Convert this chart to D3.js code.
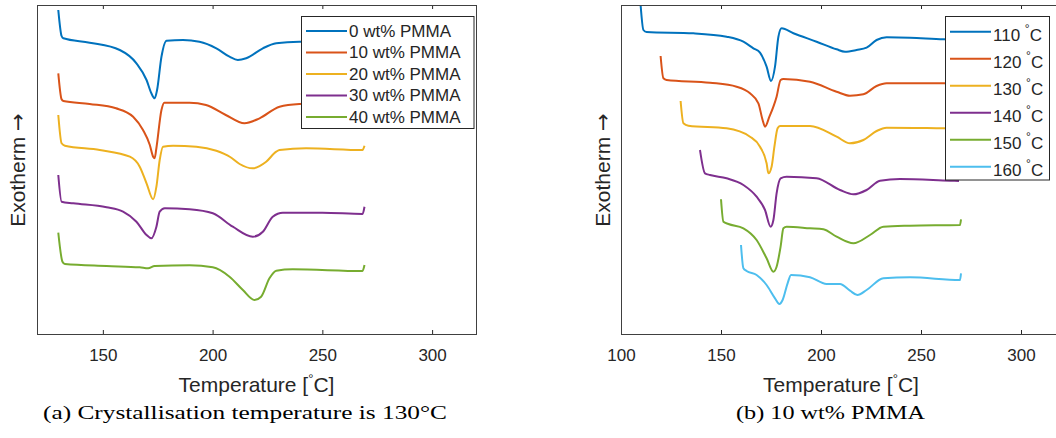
<!DOCTYPE html>
<html>
<head>
<meta charset="utf-8">
<script src="https://cdn.jsdelivr.net/npm/d3@7"></script>
<style>
body { margin: 0; background: #fff; }
svg text { font-family: "Liberation Sans", Arial, Helvetica, sans-serif; fill: #262626; }
svg text.caption { font-family: "Liberation Serif", "DejaVu Serif", serif; fill: #000; }
</style>
</head>
<body>
<svg id="chart" width="1056" height="438"></svg>
<script>
// DSC traces, [temperature in °C, heat flow in a.u. (shifted for display)]
// (a) crystallised at 130 °C, different PMMA content
var pmma0 = [[129.7,-1.0],[131.2,-3.6],[132,-3.83],[144,-4.27],[157.7,-5.0],[165.3,-6.33],[169.9,-8.0],[172.1,-9.33],[173.6,-9.83],[174.7,-9.0],[176.7,-5.67],[179,-4.07],[186.5,-4.0],[194,-4.17],[201.7,-4.83],[207.7,-5.67],[211.5,-6.0],[215.3,-5.83],[222.9,-4.83],[229,-4.33],[239.5,-4.17],[255,-4.15],[268.5,-4.15],[269.5,-3.8]];
var pmma10 = [[129.7,-7.33],[131.2,-9.93],[132,-10.1],[144,-10.4],[156,-10.83],[163.8,-11.67],[168.3,-13.0],[171.4,-14.5],[172.9,-15.67],[173.6,-15.83],[174.4,-14.8],[176.7,-11.0],[178,-10.27],[189.5,-10.27],[197,-10.5],[206,-11.5],[214.5,-12.33],[221.4,-11.83],[230.5,-10.67],[239.5,-10.4],[255,-10.3],[268.5,-10.3],[269.5,-9.95]];
var pmma20 = [[129.7,-11.5],[131.2,-14.33],[132.7,-14.57],[148.6,-15.0],[162.3,-15.67],[166.8,-16.67],[169.9,-18.33],[172.9,-19.93],[174.4,-18.67],[175.9,-16.0],[177.4,-14.67],[182,-14.57],[192.6,-14.67],[201.7,-15.08],[208,-15.7],[212.3,-16.4],[218.3,-16.83],[224.4,-16.17],[229,-15.17],[230.5,-15.0],[242.6,-14.83],[268.3,-15.0],[269.2,-14.57]];
var pmma30 = [[129.7,-17.5],[131.2,-20.17],[136.5,-20.33],[151.7,-20.73],[159.2,-21.17],[165.3,-22.17],[169.9,-23.5],[172.1,-23.83],[174.4,-22.67],[175.9,-21.17],[178.2,-20.83],[189.5,-20.93],[200.1,-21.33],[209.2,-22.67],[218.3,-23.67],[222.9,-23.17],[227.4,-21.67],[232,-21.27],[250,-21.27],[268.3,-21.4],[269.2,-20.67]];
var pmma40 = [[129.7,-23.27],[131.6,-26.17],[132.7,-26.4],[151.7,-26.6],[166.8,-26.73],[170.6,-26.83],[173.6,-26.6],[189.5,-26.53],[200.1,-26.73],[207.7,-27.67],[213.8,-29.0],[219.1,-30.0],[222.1,-29.67],[225.9,-27.83],[229,-27.07],[236.5,-26.93],[268.3,-27.1],[269.2,-26.5]];

// (b) 10 wt% PMMA, different crystallisation temperatures
var tc110 = [[109.8,-0.5],[111.2,-3.0],[112.8,-3.2],[136.2,-3.33],[152.8,-3.67],[161.2,-4.17],[166.2,-4.83],[169.5,-5.27],[172.8,-6.67],[175,-8.1],[177,-6.67],[178.7,-3.67],[180.3,-2.83],[186.2,-3.33],[197.8,-4.17],[207.8,-4.93],[212,-5.17],[217.8,-5.0],[222.8,-4.77],[227.8,-4.0],[232.8,-3.73],[244.5,-3.77],[261.2,-3.93],[269.5,-3.95]];
var tc120 = [[119.8,-5.6],[121.2,-7.83],[122.8,-8.0],[144.5,-8.27],[157.8,-8.67],[164.5,-9.33],[168.7,-10.33],[170.8,-12.0],[172,-12.67],[174.2,-11.67],[176.2,-10.67],[177.8,-9.67],[179.8,-8.0],[181.2,-7.9],[194.5,-8.17],[207.8,-9.17],[214.5,-9.57],[221.2,-9.43],[227.8,-8.6],[232.8,-8.33],[261.2,-8.33],[269.5,-8.35]];
var tc130 = [[129.8,-10.1],[131.2,-12.33],[133.7,-12.57],[152.8,-12.83],[164.5,-13.67],[169.5,-14.67],[172.8,-16.33],[173.7,-17.33],[175.3,-16.67],[176.7,-14.67],[178.3,-12.83],[179.5,-12.6],[194.5,-12.6],[207.8,-13.67],[214.5,-14.33],[221.2,-14.0],[227.8,-13.1],[232.8,-12.77],[261.2,-12.83],[269.5,-12.85]];
var tc140 = [[139.5,-15.0],[142,-17.33],[144.5,-17.5],[152.8,-17.83],[161.2,-18.5],[167.8,-19.67],[172,-21.0],[174.8,-22.67],[176.2,-22.0],[177.8,-19.33],[179.8,-17.83],[182.8,-17.67],[197.8,-17.83],[209.5,-19.0],[216.2,-19.43],[222.8,-19.0],[229.5,-18.07],[239.5,-17.9],[264.5,-18.07],[269,-18.1]];
var tc150 = [[150,-19.93],[151.2,-22.17],[153.7,-22.4],[161.2,-22.83],[167.8,-24.0],[172.8,-25.83],[176.2,-27.17],[177.8,-26.67],[179.8,-24.67],[181.2,-22.83],[182.8,-22.67],[194.5,-22.83],[201.2,-22.93],[207.8,-23.67],[216.2,-24.33],[224.5,-23.5],[231.2,-22.67],[244.5,-22.57],[269.5,-22.5],[270,-21.93]];
var tc160 = [[160,-24.5],[161.2,-26.83],[162.8,-27.1],[167.8,-27.5],[172.8,-28.5],[177,-29.83],[179.2,-30.4],[180.8,-30.0],[183.3,-28.33],[185,-27.5],[194.5,-27.73],[202.8,-28.4],[209.5,-28.4],[214.5,-29.07],[218.2,-29.5],[222.8,-29.0],[231.2,-27.83],[244.5,-27.73],[269.5,-28.0],[270,-27.33]];

var namesA = ["0 wt% PMMA", "10 wt% PMMA", "20 wt% PMMA", "30 wt% PMMA", "40 wt% PMMA"];
var namesB = ["110", "120", "130", "140", "150", "160"];
var ticksA = [150, 200, 250, 300];
var ticksB = [100, 150, 200, 250, 300];

// MATLAB default line colours
var colors = ["#0072BD", "#D95319", "#EDB120", "#7E2F8E", "#77AC30", "#4DBEEE"];

var panels = [
    {
        left: 37, right: 476, domain: [120, 320], ticks: ticksA,
        series: [pmma0, pmma10, pmma20, pmma30, pmma40], names: namesA, degree: false,
        legend: { x: 301.5, y: 16.5, w: 172.5, h: 112, row0: 31, rowH: 21.5, baseOff: 5.9, l0: 306, l1: 347, tx: 349 },
        ylabelX: 25,
        caption: "(a) Crystallisation temperature is 130°C", capX: 43, capW: 404
    },
    {
        left: 621, right: 1061, domain: [100, 320], ticks: ticksB,
        series: [tc110, tc120, tc130, tc140, tc150, tc160], names: namesB, degree: true,
        legend: { x: 945.5, y: 16.5, w: 104, h: 163.5, row0: 31.7, rowH: 27, baseOff: 9, l0: 950, l1: 991, tx: 993 },
        ylabelX: 610,
        caption: "(b) 10 wt% PMMA", capX: 736, capW: 189
    }
];

var svg = d3.select("#chart");
var plotTop = 5, plotBottom = 334;
var y = d3.scaleLinear().domain([-33.4, -0.5]).range([plotBottom, plotTop]);

panels.forEach(function(p, pi) {
    var x = d3.scaleLinear().domain(p.domain).range([p.left, p.right]);
    var g = svg.append("g");

    g.append("clipPath").attr("id", "clip" + pi)
        .append("rect")
        .attr("x", p.left).attr("y", plotTop)
        .attr("width", p.right - p.left).attr("height", plotBottom - plotTop);

    // curves
    var line = d3.line()
        .x(function(d) { return x(d[0]); })
        .y(function(d) { return y(d[1]); })
        .curve(d3.curveMonotoneX);

    g.append("g").attr("clip-path", "url(#clip" + pi + ")")
        .selectAll("path")
        .data(p.series)
        .join("path")
        .attr("d", line)
        .attr("fill", "none")
        .attr("stroke", function(d, i) { return colors[i]; })
        .attr("stroke-width", 2)
        .attr("stroke-linejoin", "round");

    // bottom axis, ticks pointing inwards
    var xb = g.append("g")
        .attr("transform", "translate(0," + plotBottom + ")")
        .call(d3.axisBottom(x).tickValues(p.ticks).tickSize(-4).tickPadding(15));
    xb.select(".domain").remove();
    xb.attr("font-size", null).attr("font-family", null);
    xb.selectAll("line").attr("stroke", "#262626");
    xb.selectAll("text").style("font-size", "17px");

    var xt = g.append("g")
        .attr("transform", "translate(0," + plotTop + ")")
        .call(d3.axisTop(x).tickValues(p.ticks).tickSize(-4).tickFormat(""));
    xt.select(".domain").remove();
    xt.selectAll("line").attr("stroke", "#262626");

    // axes box
    g.append("rect")
        .attr("x", p.left + 0.5).attr("y", plotTop + 0.5)
        .attr("width", p.right - p.left).attr("height", plotBottom - plotTop)
        .attr("fill", "none")
        .attr("stroke", "#404040")
        .attr("stroke-width", 1);

    // axis labels
    var xl = g.append("text")
        .attr("x", (p.left + p.right) / 2).attr("y", 392)
        .attr("text-anchor", "middle")
        .style("font-size", "21px");
    xl.append("tspan").text("Temperature [");
    xl.append("tspan").attr("dy", -9).style("font-size", "13px").text("°");
    xl.append("tspan").attr("dy", 9).text("C]");

    var yl = g.append("text")
        .attr("transform", "translate(" + p.ylabelX + ",170) rotate(-90)")
        .attr("text-anchor", "middle")
        .style("font-size", "21px");
    yl.append("tspan").text("Exotherm ");
    yl.append("tspan").style("font-family", "'DejaVu Sans', sans-serif").text("→");

    // legend
    var L = p.legend;
    var lg = g.append("g");
    lg.append("rect")
        .attr("x", L.x).attr("y", L.y).attr("width", L.w).attr("height", L.h)
        .attr("fill", "#fff").attr("stroke", "#262626").attr("stroke-width", 1);

    var rows = lg.selectAll("g.row").data(p.names).join("g").attr("class", "row");
    rows.append("line")
        .attr("x1", L.l0).attr("x2", L.l1)
        .attr("y1", function(d, i) { return L.row0 + i * L.rowH; })
        .attr("y2", function(d, i) { return L.row0 + i * L.rowH; })
        .attr("stroke", function(d, i) { return colors[i]; })
        .attr("stroke-width", 2);
    var lt = rows.append("text")
        .attr("x", L.tx)
        .attr("y", function(d, i) { return L.row0 + i * L.rowH + L.baseOff; })
        .style("font-size", "17px");
    if (p.degree) {
        lt.append("tspan").text(function(d) { return d + " "; });
        lt.append("tspan").attr("dy", -8).style("font-size", "12px").text("°");
        lt.append("tspan").attr("dy", 8).text("C");
    } else {
        lt.text(function(d) { return d; });
    }

    // sub-figure caption
    g.append("text")
        .attr("class", "caption")
        .attr("x", p.capX).attr("y", 419)
        .attr("textLength", p.capW)
        .attr("lengthAdjust", "spacingAndGlyphs")
        .style("font-size", "19px")
        .text(p.caption);
});
</script>
</body>
</html>
